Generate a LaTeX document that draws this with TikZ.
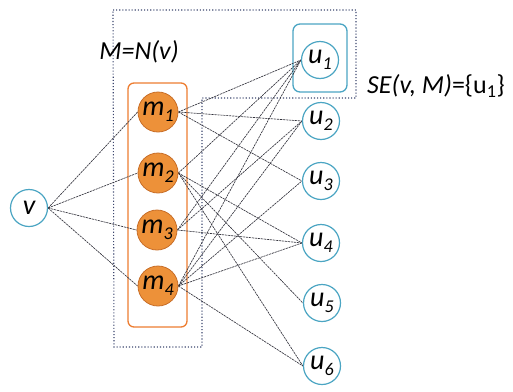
\documentclass[tikz,border=0pt]{standalone}
\usepackage{fontspec}
\setmainfont{Carlito}
\usetikzlibrary{backgrounds}
\definecolor{tealc}{RGB}{75,165,195}
\definecolor{orfill}{RGB}{237,145,57}
\definecolor{ordraw}{RGB}{200,110,40}
\definecolor{orrect}{RGB}{237,125,49}
\definecolor{dotc}{RGB}{60,70,110}
\definecolor{edgec}{RGB}{50,50,60}
\newcommand{\lsub}[1]{\raisebox{-0.45ex}{\fontsize{18}{18}\selectfont #1}}
\begin{document}
\begin{tikzpicture}[x=1pt,y=-1pt,
  unode/.style={circle,draw=tealc,fill=white,line width=1.2pt,minimum width=35pt,minimum height=37pt,inner sep=0pt,font=\fontsize{28}{28}\selectfont\itshape},
  mnode/.style={circle,draw=ordraw,fill=orfill,line width=0.8pt,minimum width=38pt,minimum height=40pt,inner sep=0pt,font=\fontsize{28}{28}\selectfont\itshape},
  edge/.style={draw=edgec,line width=0.65pt,dash pattern=on 2.2pt off 0.8pt},
  lbl/.style={font=\fontsize{26}{26}\selectfont,inner sep=0pt}]
\useasboundingbox (0,0) rectangle (513,391);
\node[unode] (v) at (29,208) {v};
\node[mnode] (m1) at (158,112) {m\lsub{1}};
\node[mnode] (m2) at (158,173) {m\lsub{2}};
\node[mnode] (m3) at (157,230) {m\lsub{3}};
\node[mnode] (m4) at (158,286) {m\lsub{4}};
\node[unode] (u1) at (320,60) {u\lsub{1}};
\node[unode] (u2) at (321,121) {u\lsub{2}};
\node[unode] (u3) at (321,181) {u\lsub{3}};
\node[unode] (u4) at (321,243) {u\lsub{4}};
\node[unode] (u5) at (322,303) {u\lsub{5}};
\node[unode] (u6) at (322,366) {u\lsub{6}};
\node[lbl] (lm) at (139,52) {\itshape M=N(v)};
\node[lbl,anchor=west] (lse) at (367,86) {{\itshape SE(v, M)}=\{u\textsubscript{1}\}};
\begin{scope}[on background layer]
  \draw[dotc,line width=1.1pt,dotted] (113,10) -- (356,10) -- (356,98) -- (202,98) -- (202,347) -- (114,347) -- cycle;
  \draw[orrect,line width=1.3pt,rounded corners=6pt] (128,83) rectangle (187,327);
  \draw[tealc,line width=1.3pt,rounded corners=7pt] (293,24) rectangle (347,92);
  \foreach \m in {m1,m2,m3,m4} \draw[edge] (v.east) -- (\m.west);
  \foreach \a/\b in {m1/u1,m1/u2,m1/u3,m2/u1,m2/u4,m2/u5,m2/u6,m3/u1,m3/u2,m3/u4,m4/u1,m4/u2,m4/u3,m4/u4,m4/u6}
    \draw[edge] (\a.east) -- (\b.west);
\end{scope}
\end{tikzpicture}
\end{document}
